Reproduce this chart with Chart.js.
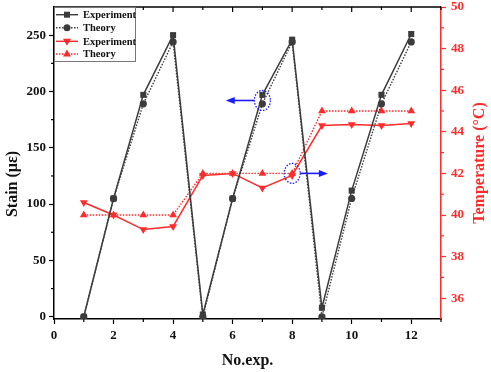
<!DOCTYPE html>
<html><head><meta charset="utf-8">
<script src="https://cdn.jsdelivr.net/npm/chart.js@4/dist/chart.umd.min.js"></script>
<style>html,body{margin:0;padding:0;background:#fff;}canvas{display:block;}</style>
</head><body>
<canvas id="c" width="491" height="372"></canvas>
<script>
// ---- data ----
const experiments = [1,2,3,4,5,6,7,8,9,10,11,12];
const strainExperiment = [0,105,197,250,2,105,197,246,8,112,197,251];
const strainTheory     = [0,105,189,244,0,105,189,244,0,105,189,244];
const tempExperiment   = [40.6,40.0,39.3,39.45,41.9,42.0,41.3,41.9,44.3,44.35,44.3,44.4];
const tempTheory       = [40,40,40,40,42,42,42,42,45,45,45,45];
const xTicks = [0,2,4,6,8,10,12];
const strainTicks = [0,50,100,150,200,250];
const tempTicks = [36,38,40,42,44,46,48,50];
const legendLabels = ['Experiment','Theory','Experiment','Theory'];
const xTitle = 'No.exp.';
const yTitle = 'Stain (\u03bc\u03b5)';
const y1Title = 'Temperature (\u00b0C)';
// highlighted points: [experiment, axis, value, arrow tip experiment]
const highlights = [[7,'y',192,5.77],[8,'y1',42,9.2]];

const GRAY = '#3c3c3c';
const RED = '#ff2b2b';
const BLUE = '#1a1aff';
const FONT = "'Liberation Serif','Times New Roman',serif";
Chart.defaults.font.family = FONT;

const pts = arr => arr.map((v,i)=>({x:experiments[i], y:v}));

function drawMarker(ctx, style, x, y, color){
  ctx.save();
  ctx.fillStyle = color; ctx.strokeStyle = color;
  ctx.beginPath();
  if(style==='rect'){ ctx.rect(x-3,y-3,6,6); }
  else if(style==='circle'){ ctx.arc(x,y,3.5,0,Math.PI*2); }
  else if(style==='up'){ ctx.moveTo(x,y-4.5); ctx.lineTo(x+4,y+2.5); ctx.lineTo(x-4,y+2.5); ctx.closePath(); }
  else if(style==='down'){ ctx.moveTo(x,y+4.5); ctx.lineTo(x+4,y-2.5); ctx.lineTo(x-4,y-2.5); ctx.closePath(); }
  ctx.fill();
  ctx.restore();
}

const extras = {
  id:'extras',
  afterDraw(chart){
    const ctx = chart.ctx;
    const a = chart.chartArea;
    const sx = chart.scales.x, sy = chart.scales.y, sy1 = chart.scales.y1;
    ctx.save();
    // top frame
    ctx.strokeStyle = '#000'; ctx.lineWidth = 1.5;
    ctx.beginPath(); ctx.moveTo(a.left, a.top); ctx.lineTo(a.right, a.top); ctx.stroke();
    ctx.lineWidth = 1.2;
    // x ticks top (major inward) + minor
    for(let v=0; v<=13; v++){
      const px = sx.getPixelForValue(v);
      const major = v%2===0;
      ctx.beginPath();
      ctx.moveTo(px, a.top); ctx.lineTo(px, a.top + (major?5:3));
      if(!major){ ctx.moveTo(px, a.bottom); ctx.lineTo(px, a.bottom+3); }
      ctx.stroke();
    }
    // left minor ticks
    for(let v=25; v<275; v+=50){
      const py = sy.getPixelForValue(v);
      ctx.beginPath(); ctx.moveTo(a.left, py); ctx.lineTo(a.left-3, py); ctx.stroke();
    }
    // right minor ticks
    ctx.strokeStyle = RED;
    for(let v=37; v<50; v+=2){
      const py = sy1.getPixelForValue(v);
      ctx.beginPath(); ctx.moveTo(a.right, py); ctx.lineTo(a.right+3, py); ctx.stroke();
    }
    // highlights
    highlights.forEach(h=>{
      const cx = sx.getPixelForValue(h[0]);
      const cy = chart.scales[h[1]].getPixelForValue(h[2]);
      ctx.strokeStyle = BLUE; ctx.lineWidth = 1.3; ctx.setLineDash([1.5,1.5]);
      ctx.beginPath(); ctx.ellipse(cx, cy, 8, 10, 0, 0, Math.PI*2); ctx.stroke();
      ctx.setLineDash([]);
      const tip = sx.getPixelForValue(h[3]);
      const dir = tip < cx ? -1 : 1;
      const start = cx + dir*8;
      ctx.lineWidth = 1.6;
      ctx.beginPath(); ctx.moveTo(start, cy); ctx.lineTo(tip - dir*6, cy); ctx.stroke();
      ctx.fillStyle = BLUE;
      ctx.beginPath(); ctx.moveTo(tip, cy); ctx.lineTo(tip - dir*9, cy-3.5); ctx.lineTo(tip - dir*9, cy+3.5); ctx.closePath(); ctx.fill();
    });
    // legend
    const lx = a.left, ly = a.top;
    ctx.fillStyle = '#fff';
    ctx.fillRect(lx+0.5, ly+0.5, 81, 54);
    ctx.strokeStyle = '#777'; ctx.lineWidth = 1;
    ctx.strokeRect(lx+0.5, ly+0.5, 81, 54);
    const items = [
      [GRAY,false,'rect'],[GRAY,true,'circle'],[RED,false,'down'],[RED,true,'up']
    ];
    const rowsY = [7.7, 20.7, 34.3, 47];
    ctx.font = 'bold 10.5px ' + FONT;
    ctx.textBaseline = 'middle'; ctx.textAlign = 'left';
    items.forEach((it,i)=>{
      const y = ly + rowsY[i];
      ctx.strokeStyle = it[0]; ctx.lineWidth = 1.4;
      ctx.setLineDash(it[1] ? [1.5,1.5] : []);
      ctx.beginPath(); ctx.moveTo(lx+2, y); ctx.lineTo(lx+24, y); ctx.stroke();
      ctx.setLineDash([]);
      drawMarker(ctx, it[2], lx+13, y, it[0]);
      ctx.fillStyle = '#111';
      ctx.fillText(legendLabels[i], lx+29, y+0.5);
    });
    // titles
    ctx.font = 'bold 16px ' + FONT;
    ctx.fillStyle = '#111'; ctx.textAlign = 'center'; ctx.textBaseline = 'middle';
    ctx.fillText(xTitle, (a.left+a.right)/2, 361);
    ctx.save(); ctx.translate(13, 184); ctx.rotate(-Math.PI/2);
    ctx.fillText(yTitle, 0, 0); ctx.restore();
    ctx.save(); ctx.translate(480, 163); ctx.rotate(-Math.PI/2);
    ctx.fillStyle = RED; ctx.fillText(y1Title, 0, 0); ctx.restore();
    ctx.restore();
  }
};

const fitY = w => s => { s.width = w; s.paddingTop = 0; s.paddingBottom = 0; };

new Chart(document.getElementById('c'), {
  type:'line',
  data:{ datasets:[
    {label:legendLabels[0], data:pts(strainExperiment), yAxisID:'y', borderColor:GRAY, backgroundColor:GRAY, borderWidth:1.5, pointStyle:'rect', pointRadius:4.3, pointBorderWidth:0},
    {label:legendLabels[1], data:pts(strainTheory), yAxisID:'y', borderColor:GRAY, backgroundColor:GRAY, borderWidth:1.4, borderDash:[1.5,1.5], pointStyle:'circle', pointRadius:3.6, pointBorderWidth:0},
    {label:legendLabels[2], data:pts(tempExperiment), yAxisID:'y1', borderColor:RED, backgroundColor:RED, borderWidth:1.5, pointStyle:'triangle', pointRotation:180, pointRadius:4.5, pointBorderWidth:0},
    {label:legendLabels[3], data:pts(tempTheory), yAxisID:'y1', borderColor:RED, backgroundColor:RED, borderWidth:1.4, borderDash:[1.5,1.5], pointStyle:'triangle', pointRadius:4.5, pointBorderWidth:0}
  ]},
  options:{
    responsive:false, animation:false, devicePixelRatio:1,
    layout:{padding:{top:7,left:0,right:0,bottom:0}},
    plugins:{legend:{display:false}, tooltip:{enabled:false}},
    elements:{line:{tension:0}},
    scales:{
      x:{type:'linear', min:0, max:13,
        afterBuildTicks:s=>{s.ticks = xTicks.map(v=>({value:v}));},
        afterFit:s=>{s.height = 53; s.paddingLeft = 0; s.paddingRight = 0;},
        grid:{drawOnChartArea:false, tickLength:5, color:'#000', tickWidth:1.2},
        border:{color:'#000', width:1.5},
        ticks:{font:{size:13, weight:'bold'}, color:'#111', padding:4, maxRotation:0, autoSkip:false}},
      y:{position:'left', min:-2, max:275,
        afterBuildTicks:s=>{s.ticks = strainTicks.map(v=>({value:v}));},
        afterFit:fitY(54),
        grid:{drawOnChartArea:false, tickLength:5, color:'#000', tickWidth:1.2},
        border:{color:'#000', width:1.5},
        ticks:{font:{size:13, weight:'bold'}, color:'#111', padding:3, autoSkip:false}},
      y1:{position:'right', min:35, max:50,
        afterBuildTicks:s=>{s.ticks = tempTicks.map(v=>({value:v}));},
        afterFit:fitY(50),
        grid:{drawOnChartArea:false, tickLength:5, color:RED, tickWidth:1.2},
        border:{color:RED, width:1.5},
        ticks:{font:{size:13, weight:'bold'}, color:RED, padding:5, autoSkip:false}}
    }
  },
  plugins:[extras]
});
</script>
</body></html>
